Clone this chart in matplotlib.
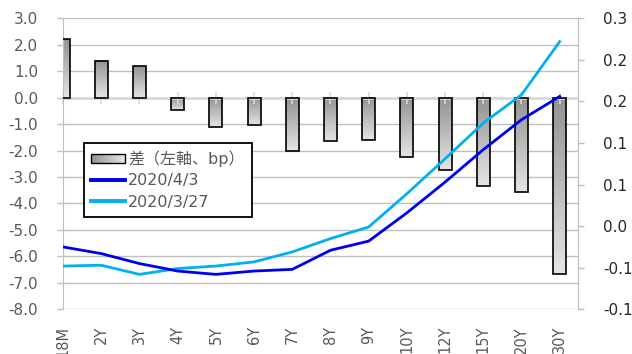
"""JGB curve: yield levels on two dates and the change between them."""

from decimal import Decimal, ROUND_HALF_UP

import matplotlib
matplotlib.use("Agg")
import matplotlib.pyplot as plt
import numpy as np
from matplotlib.colors import LinearSegmentedColormap
from matplotlib.legend_handler import HandlerBase
from matplotlib.lines import Line2D
from matplotlib.patches import Rectangle

plt.rcParams["axes.unicode_minus"] = False

tenors = ["18M", "2Y", "3Y", "4Y", "5Y", "6Y", "7Y", "8Y", "9Y", "10Y",
          "12Y", "15Y", "20Y", "30Y"]
spread_bp = [2.2, 1.4, 1.2, -0.45, -1.1, -1.05, -2.0, -1.65, -1.6, -2.25,
             -2.75, -3.35, -3.55, -6.65]
yield_0403 = [-0.025, -0.033, -0.045, -0.054, -0.058, -0.054, -0.052, -0.029,
              -0.018, 0.016, 0.053, 0.092, 0.128, 0.156]
yield_0327 = [-0.048, -0.047, -0.058, -0.051, -0.048, -0.043, -0.031, -0.015,
              -0.001, 0.039, 0.081, 0.124, 0.158, 0.222]

left_ticks = np.arange(-8, 3.5, 1.0)
right_ticks = [0.25, 0.2, 0.15, 0.1, 0.05, 0.0, -0.05, -0.1]

GRID = "#BFBFBF"
ZERO = "#D9D9D9"
TEXT = "#595959"
DARK_BLUE = "#0000F0"
LIGHT_BLUE = "#00B0F0"
bar_cmap = LinearSegmentedColormap.from_list("bar", ["#939393", "#E4E4E4"])


def one_decimal(v):
    # Excel style: round half away from zero
    d = Decimal(str(v)).quantize(Decimal("0.1"), rounding=ROUND_HALF_UP)
    return f"{d:.1f}".replace("-0.0", "0.0") if d == 0 else f"{d:.1f}"


class GradientPatchHandler(HandlerBase):
    """Legend key drawn as a left-to-right gray gradient box."""

    def create_artists(self, legend, orig_handle, xdescent, ydescent,
                       width, height, fontsize, trans):
        n = 24
        h = height * 0.75
        y0 = -ydescent + (height - h) / 2
        arts = []
        for i in range(n):
            r = Rectangle((-xdescent + width * i / n, y0), width / n + 0.3, h,
                          facecolor=bar_cmap(i / (n - 1)), edgecolor="none",
                          transform=trans)
            arts.append(r)
        arts.append(Rectangle((-xdescent, y0), width, h, facecolor="none",
                              edgecolor="black", lw=1.0, transform=trans))
        return arts


fig = plt.figure(figsize=(6.32, 3.54), dpi=100)
ax = fig.add_axes([0.0997, 0.1263, 0.8149, 0.822])
x = np.arange(len(tenors))
xlim = (0, 13.48)
width = 0.34

# ── Bars: spread on the left axis ────────────────────────────────────────
ax.set_axisbelow(True)
ax.yaxis.grid(True, color=GRID, lw=1.0)
bars = ax.bar(x, spread_bp, width=width, facecolor="none", edgecolor="black",
              lw=1.2, zorder=3)
grad = np.linspace(0, 1, 64).reshape(-1, 1)
for xi, v in zip(x, spread_bp):
    lo, hi = min(0, v), max(0, v)
    ax.imshow(grad, cmap=bar_cmap, aspect="auto", origin="upper",
              extent=(xi - width / 2, xi + width / 2, lo, hi), zorder=2)

ax.axhline(0, color=ZERO, lw=2.0, zorder=2.5)
ax.plot(x, np.zeros(len(x)), ls="none", marker="|", ms=8, mew=1.2,
        color=ZERO, zorder=2.5, clip_on=False)

ax.set_xlim(*xlim)
ax.set_ylim(-8, 3)
ax.set_yticks(left_ticks)
ax.set_yticklabels([f"{v:.1f}" for v in left_ticks])
ax.tick_params(axis="y", colors=GRID, length=4, width=1.0, pad=14,
               labelcolor=TEXT, labelsize=11)
ax.set_xticks(x)
ax.set_xticklabels(tenors, rotation=90, va="top", ha="center")
ax.tick_params(axis="x", length=0, pad=12, labelcolor=TEXT, labelsize=10.5)
for side in ("top", "bottom"):
    ax.spines[side].set_visible(False)
ax.spines["left"].set_color(GRID)
ax.spines["right"].set_color(GRID)

# ── Lines: yield levels on the right axis ────────────────────────────────
ax2 = ax.twinx()
ax2.plot(x, yield_0327, color=LIGHT_BLUE, lw=2.0, solid_joinstyle="round")
ax2.plot(x, yield_0403, color=DARK_BLUE, lw=2.0, solid_joinstyle="round")
ax2.set_xlim(*xlim)
ax2.set_ylim(-0.1, 0.25)
ax2.set_yticks(right_ticks)
ax2.set_yticklabels([one_decimal(v) for v in right_ticks])
ax2.tick_params(axis="y", colors=GRID, length=4, width=1.0, pad=14,
                labelcolor="#262626", labelsize=11)
for side in ("top", "bottom", "left"):
    ax2.spines[side].set_visible(False)
ax2.spines["right"].set_color(GRID)

handles = [Rectangle((0, 0), 1, 1),
           Line2D([], [], color=DARK_BLUE, lw=2.8),
           Line2D([], [], color=LIGHT_BLUE, lw=2.8)]
labels = ["差（左軸、bp）", "2020/4/3", "2020/3/27"]
leg = ax2.legend(handles, labels, loc="upper left",
                 bbox_to_anchor=(0.041, 0.571), borderaxespad=0,
                 handler_map={Rectangle: GradientPatchHandler()},
                 prop={"family": ["DejaVu Sans", "Noto Sans CJK JP"],
                       "size": 11.5},
                 handlelength=2.1, handletextpad=0.2, labelspacing=0.4,
                 borderpad=0.45, fancybox=False, framealpha=1)
leg.get_frame().set_edgecolor("black")
leg.get_frame().set_linewidth(1.3)
for t in leg.get_texts():
    t.set_color(TEXT)

fig.savefig("out.png", dpi=100)
